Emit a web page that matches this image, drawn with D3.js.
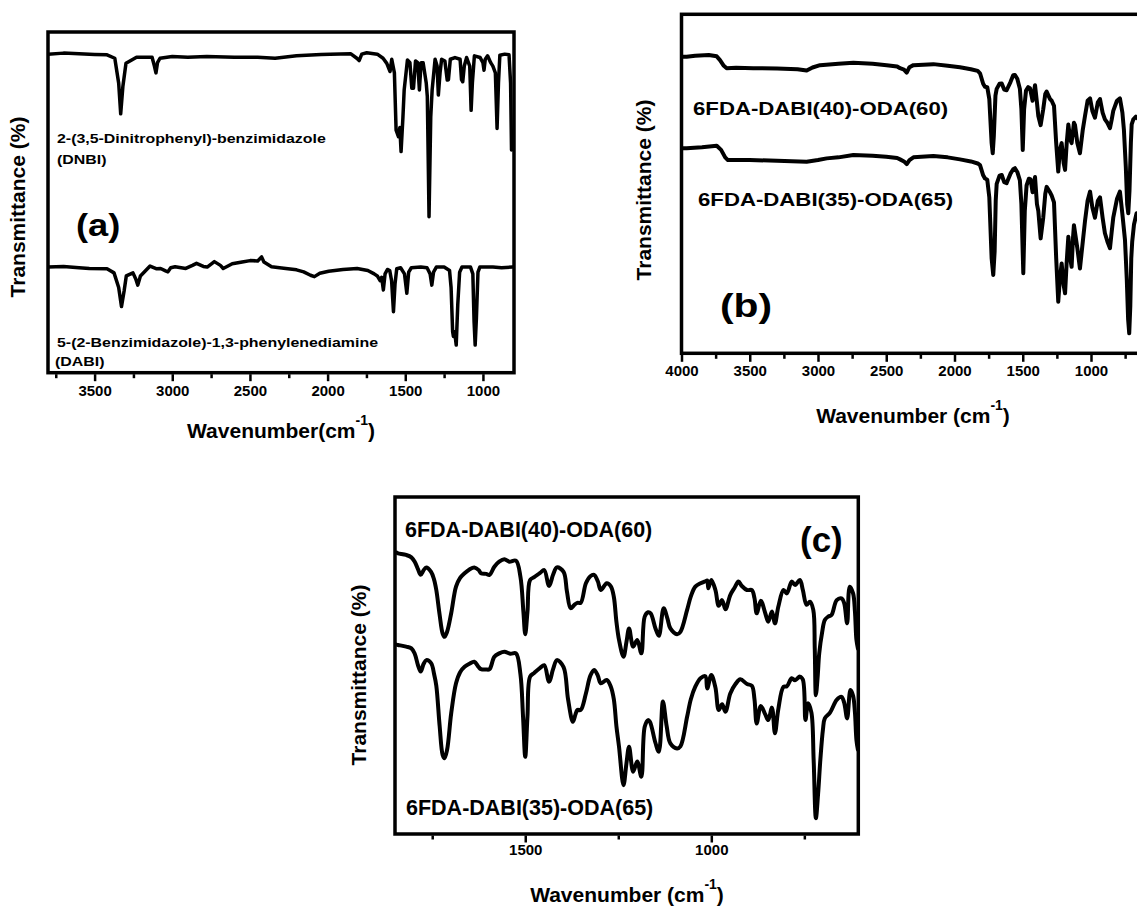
<!DOCTYPE html>
<html lang="en">
<head>
<meta charset="UTF-8">
<title>FTIR spectra of DNBI, DABI and 6FDA-DABI-ODA</title>
<script src="https://d3js.org/d3.v7.min.js"></script>
<style>
  body { margin: 0; background: #fff; }
  svg text { font-family: "Liberation Sans", Arial, sans-serif; font-weight: bold; fill: #000; }
  .frame { fill: none; stroke: #000; stroke-width: 3.5px; }
  .spectrum { fill: none; stroke: #000; stroke-linejoin: round; stroke-linecap: round; }
  .tick line { stroke: #000; stroke-width: 2.5px; }
</style>
</head>
<body>
<svg id="chart" width="1137" height="908"></svg>
<script>
// ---- data: [wavenumber (cm-1), transmittance (a.u., 0-100 of frame)] ----

// panel (a)
const dnbi = [[3800,93.5],[3700,93.8],[3600,93.6],[3500,93.4],[3420,93.3],[3370,92.3],[3345,85],[3332,76],[3318,84],[3298,90.8],
  [3230,92.6],[3130,92.6],[3115,90],[3105,88],[3095,91],[3079,92.3],[3000,92.8],[2900,92.6],[2778,92.8],[2600,92.6],
  [2450,92.6],[2338,92.3],[2200,93],[2042,93.4],[1984,93.5],[1850,93.6],[1812,92.3],[1797,91.6],[1780,93.5],[1748,93.9],
  [1680,93.5],[1643,92.3],[1619,90.8],[1598,88.4],[1587,92],[1570,88],[1559,71.2],[1544,69.3],[1535,72],[1527,64.9],
  [1515,75],[1507,83],[1486,91.8],[1470,91],[1458,83.5],[1447,83.5],[1434,91.5],[1420,91],[1409,83],[1398,91],
  [1385,91],[1365,85],[1358,81],[1347,45.8],[1336,75],[1327,83],[1308,92],[1295,90],[1287,81.5],[1276,88],
  [1266,92],[1245,91.5],[1230,85.9],[1222,86],[1210,92],[1180,92.5],[1147,92],[1138,86],[1130,85.4],[1120,90],
  [1105,92.5],[1085,90],[1076,77],[1068,85],[1055,93],[1018,92.5],[1000,91],[993,88.8],[985,92],[970,93],
  [950,91],[936,90],[920,88],[909,71.7],[900,85],[891,93.2],[860,93.5],[832,93.3],[822,85],[816,65.4]];

const dabi = [[3800,31],[3700,31.2],[3600,30.8],[3534,30.6],[3420,30.5],[3375,29.3],[3345,25],[3327,19.4],[3310,24],[3296,28.4],
  [3253,29.3],[3235,27.5],[3222,25.7],[3205,28.4],[3143,31.3],[3100,30.5],[3075,30.6],[3040,29.8],[3028,29.6],[3010,30.8],
  [2982,31.1],[2913,30.6],[2870,31.5],[2844,32.1],[2800,31.2],[2775,31],[2729,32.6],[2690,31.5],[2672,30.6],[2614,32],
  [2550,32.5],[2499,32.9],[2450,32.8],[2425,34],[2410,32.5],[2361,31.1],[2269,30.6],[2200,30.2],[2154,29.6],[2110,28.6],
  [2085,28.2],[2050,29.2],[1993,29.8],[1901,30.3],[1810,30.6],[1741,30],[1700,29],[1680,28.4],[1662,27],[1652,28],
  [1641,24.3],[1630,29],[1615,30.3],[1600,30],[1588,27],[1576,17.9],[1566,26],[1555,30.5],[1530,30.8],[1505,29],
  [1490,23.3],[1478,29.5],[1461,30.8],[1400,31],[1360,30.8],[1340,29],[1329,25.7],[1318,29.5],[1300,31],[1250,31],
  [1215,30],[1205,25],[1195,12],[1190,10.6],[1182,12],[1172,8.1],[1162,20],[1150,29.5],[1135,31],[1080,31],
  [1065,29],[1057,15],[1050,8.1],[1042,16],[1032,29.5],[1020,31],[936,31],[880,30.8],[810,31]];

// panel (b)
const pi4060b = [[4000,87.5],[3962,87.5],[3900,87.8],[3800,88],[3742,87.6],[3718,86.5],[3690,84.8],[3669,84.1],[3600,84.2],[3474,84.1],
  [3300,84],[3150,83.8],[3083,83.4],[3040,84.3],[2985,85],[2850,85.4],[2741,85.7],[2600,85.4],[2497,85],[2420,84.6],
  [2399,84.1],[2370,83.7],[2350,82.8],[2330,84.4],[2301,85],[2155,85.3],[2050,84.8],[1960,84.4],[1880,83.8],[1830,83.3],
  [1813,82.6],[1790,79.5],[1777,78.6],[1760,78.5],[1745,75],[1728,62],[1720,59],[1712,64],[1700,76],[1691,78],
  [1670,79.5],[1654,79.6],[1636,77.8],[1618,77.6],[1590,80],[1570,82],[1557,82.1],[1540,81],[1521,78],[1510,72],
  [1500,60],[1490,72],[1476,77.5],[1460,78.5],[1447,78.2],[1428,74.5],[1410,79.1],[1396,74],[1386,70],[1369,67.3],
  [1350,72],[1335,76.5],[1325,77.2],[1300,75],[1288,74.5],[1271,73],[1255,62],[1240,53.6],[1228,60],[1215,62],
  [1200,56],[1190,54.1],[1178,62],[1166,67.5],[1152,63],[1142,62],[1125,68],[1117,67.3],[1100,62],[1081,59],
  [1060,66],[1044,70],[1025,74.5],[1007,75.2],[990,71.5],[971,69.5],[950,74],[934,75],[915,71],[898,69],
  [880,68],[861,66.4],[848,69],[837,71.5],[810,74.5],[788,75.2],[770,71],[759,66],[745,55],[735,44],
  [727,41.3],[718,48],[708,62],[702,67.5],[690,69],[671,69.8],[650,69]];

const pi3565b = [[4000,60.5],[3962,60.5],[3850,60.8],[3742,61.2],[3710,60],[3680,57.8],[3660,57],[3500,57],[3300,56.8],[3083,56.5],
  [3000,57],[2936,57.5],[2850,57.8],[2741,58.5],[2600,58.3],[2500,58],[2420,57.6],[2399,57.2],[2370,56.6],[2350,55.8],
  [2330,57],[2301,57.8],[2155,58.2],[2050,57.8],[1960,57.2],[1880,56.6],[1830,56],[1813,55.5],[1790,52.5],[1777,51.6],
  [1760,51.2],[1745,46],[1728,28],[1716,23.1],[1706,30],[1698,45],[1691,50],[1670,52.4],[1654,52.6],[1636,50.5],
  [1618,50.2],[1590,53],[1570,54.3],[1557,54.6],[1540,53.5],[1521,51],[1510,44],[1496,23.6],[1485,42],[1472,49.5],
  [1455,51.5],[1443,51.3],[1428,47.5],[1410,52],[1396,44],[1386,42],[1369,33.9],[1350,40],[1335,47],[1325,49.1],
  [1300,47.5],[1288,46.5],[1271,44.5],[1255,28],[1240,15.2],[1228,22],[1215,26.5],[1200,20],[1190,17.7],[1178,27],
  [1166,34.4],[1152,28],[1142,25.5],[1132,34],[1125,37.8],[1100,31],[1081,25],[1060,33],[1044,39],[1025,45],
  [1007,47.7],[990,43],[971,40],[950,45],[934,46],[915,40],[898,35.4],[880,33],[861,31],[848,36],
  [837,40],[810,45.5],[788,47.7],[770,41],[751,33.4],[738,22],[728,10],[720,5.9],[712,14],[705,28],
  [698,33],[685,38],[666,41.3],[650,41]];

// panel (c)
const pi4060c = [[1846,83.5],[1842,83.3],[1820,82.8],[1806,82.1],[1797,80.8],[1788,78.5],[1781,76.9],[1773,78.3],[1766,79.1],[1753,77.8],
  [1745,75.5],[1739,72.4],[1730,65],[1722,59.5],[1717,58.5],[1710,60],[1699,65.5],[1686,73.4],[1675,76],[1663,77.4],
  [1650,78.5],[1637,79.1],[1625,78.3],[1619,77.4],[1605,77.2],[1596,76.9],[1583,79.3],[1570,80.8],[1556,81.5],[1543,80.8],
  [1525,81.1],[1513,76.4],[1505,66],[1500,59.3],[1494,66],[1487,75.4],[1476,76.2],[1460,77.5],[1449,78.3],[1436,73.6],
  [1425,77],[1415,79.1],[1397,77.8],[1388,72],[1378,67],[1368,68],[1360,68.6],[1351,68.6],[1337,74.4],[1325,76.5],
  [1315,76.9],[1305,75],[1297,72.4],[1281,74.4],[1270,73.5],[1262,70.4],[1255,63],[1248,57.6],[1236,52.6],[1228,57],
  [1221,61],[1210,55.6],[1199,57.6],[1188,53.6],[1179,64.5],[1170,65.8],[1163,65.5],[1150,61],[1141,58.8],[1128,67],
  [1118,64],[1110,61],[1092,59.3],[1083,60],[1065,66.5],[1055,70.5],[1043,73.4],[1029,74.4],[1016,75],[1011,75.2],
  [1008,72.9],[1000,75.4],[989,72.4],[980,67.7],[971,69.4],[962,66.7],[949,70.9],[938,73],[927,74.9],[918,73.6],
  [904,72.4],[891,72.4],[884,70],[878,65.5],[867,69.2],[855,65.5],[847,63],[837,66],[829,62.5],[820,67.4],
  [806,72.4],[797,71.4],[784,74.9],[775,73.9],[762,75.4],[754,72.4],[744,68],[735,68.9],[726,66.5],[722,55],
  [719,41.2],[714,47],[710,53.6],[702,60],[695,63.5],[686,64.5],[677,65],[663,69.4],[650,69.9],[643,68.5],
  [635,62.5],[628,73.4],[619,71.4],[614,66],[610,57.6],[606,55]];

const pi3565c = [[1846,56.2],[1842,56.1],[1820,55.6],[1806,55.1],[1797,53.5],[1788,50],[1781,48.2],[1773,50.5],[1766,51.6],[1753,50.7],
  [1745,47.5],[1739,44],[1730,32],[1722,23.5],[1717,22.5],[1710,25],[1699,35.8],[1686,44.7],[1675,48],[1663,49.6],
  [1650,50.5],[1637,51.1],[1625,49.5],[1619,48.9],[1605,48.8],[1596,48.9],[1583,52.6],[1570,53.6],[1556,54.1],[1540,53.5],
  [1525,53.6],[1513,47.5],[1506,35],[1500,22.9],[1494,35],[1487,46.7],[1476,47.8],[1460,49.3],[1449,50.1],[1436,45.2],
  [1425,49],[1415,51.6],[1397,49.5],[1385,40],[1372,33.3],[1365,35.5],[1360,36.8],[1351,36.8],[1337,41.7],[1325,47],
  [1315,48.7],[1305,47],[1297,44.7],[1281,45.7],[1270,43.7],[1262,40],[1255,32],[1248,25.9],[1236,14.5],[1228,21],
  [1221,25.9],[1210,18.5],[1199,21.5],[1188,17],[1179,31.8],[1170,33.8],[1165,33.3],[1150,27],[1141,24.4],[1130,39.3],
  [1120,32],[1110,26.9],[1092,25.4],[1083,26],[1065,34.8],[1055,40],[1043,43.7],[1029,46.2],[1016,46.8],[1011,43.2],
  [1000,47.2],[989,43.5],[980,36.8],[971,38.5],[962,36.3],[949,41.7],[935,44.5],[922,45.9],[904,44.5],[891,44],
  [884,40],[878,32.8],[867,38],[855,35.5],[847,33.8],[837,37.5],[829,29.9],[820,37],[806,43.7],[797,43.8],
  [784,46.2],[775,45.6],[762,46.7],[754,45.8],[747,33.8],[740,38.8],[731,36],[725,22],[719,4.7],[713,12],
  [707,22],[700,31],[695,34.3],[681,36],[663,39.8],[650,40.7],[643,39],[635,34.3],[626,42.7],[619,41],
  [614,36],[610,27.9],[606,25]];

// ticks
const majorA = [3500, 3000, 2500, 2000, 1500, 1000];
const minorA = [3750, 3250, 2750, 2250, 1750, 1250];
const majorB = [4000, 3500, 3000, 2500, 2000, 1500, 1000];
const minorB = [3750, 3250, 2750, 2250, 1750, 1250, 750];
const majorC = [1500, 1000];
const minorC = [1750, 1250, 750];

// labels
const labelsA = ['2-(3,5-Dinitrophenyl)-benzimidazole', '(DNBI)', '5-(2-Benzimidazole)-1,3-phenylenediamine', '(DABI)'];
const labelsPI = ['6FDA-DABI(40)-ODA(60)', '6FDA-DABI(35)-ODA(65)'];
const yTitle = 'Transmittance (%)';

const svg = d3.select('#chart');
svg.append('rect').attr('width', 1137).attr('height', 908).attr('fill', '#fff');

function addText(g, x, y, str, size, sx) {
    return g.append('text')
        .attr('transform', `translate(${x},${y}) scale(${sx || 1},1)`)
        .style('font-size', size + 'px')
        .text(str);
}

function xTitle(g, cx, y, gap) {
    const t = g.append('text')
        .attr('x', cx).attr('y', y)
        .attr('text-anchor', 'middle')
        .style('font-size', '21px');
    t.append('tspan').text(gap ? 'Wavenumber (cm' : 'Wavenumber(cm');
    t.append('tspan').attr('dy', -13).style('font-size', '14px').text('-1');
    t.append('tspan').attr('dy', 13).text(')');
}

function drawPanel(p) {
    const x = d3.scaleLinear().domain(p.xDomain).range([p.left, p.right]);
    const y = d3.scaleLinear().domain([0, 100]).range([p.bottom, p.top]);
    const g = svg.append('g');

    g.append('clipPath').attr('id', 'clip-' + p.id)
        .append('rect')
        .attr('x', p.left).attr('y', p.top)
        .attr('width', p.right - p.left).attr('height', p.bottom - p.top);

    const line = d3.line()
        .x(d => x(d[0]))
        .y(d => y(d[1]))
        .curve(p.curve);

    g.append('g')
        .attr('clip-path', `url(#clip-${p.id})`)
        .selectAll('path')
        .data(p.series)
        .join('path')
        .attr('class', 'spectrum')
        .attr('stroke-width', p.lineWidth)
        .attr('d', line);

    // minor ticks
    g.append('g')
        .attr('transform', `translate(0,${p.bottom + 1.5})`)
        .call(d3.axisBottom(x).tickValues(p.minor).tickSize(4).tickFormat(''))
        .call(a => a.select('.domain').remove());

    // major ticks + labels
    g.append('g')
        .attr('transform', `translate(0,${p.bottom + 1.5})`)
        .call(d3.axisBottom(x).tickValues(p.major).tickSize(7).tickPadding(p.tickPad).tickFormat(d3.format('d')))
        .call(a => a.select('.domain').remove())
        .call(a => a.selectAll('text').style('font-size', '15px'));

    g.append('rect')
        .attr('class', 'frame')
        .attr('x', p.left).attr('y', p.top)
        .attr('width', p.right - p.left).attr('height', p.bottom - p.top);

    // y title
    g.append('text')
        .attr('transform', `translate(${p.yTitleX},${p.yTitleY}) rotate(-90)`)
        .attr('text-anchor', 'middle')
        .style('font-size', '21px')
        .text(yTitle);

    xTitle(g, p.xTitleX, p.xTitleY, p.gap);

    p.labels.forEach(l => addText(g, l[0], l[1], l[2], l[3], l[4]));
    return g;
}

// (a)
drawPanel({
    id: 'a', xDomain: [3800, 800], left: 48, right: 514, top: 32, bottom: 372.7,
    series: [dnbi, dabi], curve: d3.curveLinear, lineWidth: 3.5,
    major: majorA, minor: minorA, tickPad: 4,
    yTitleX: 24.5, yTitleY: 207, xTitleX: 281, xTitleY: 438, gap: false,
    labels: [
        [57, 142.7, labelsA[0], 13.5, 1.18],
        [57, 164, labelsA[1], 13.5, 1.18],
        [57, 346.7, labelsA[2], 13.5, 1.18],
        [55, 366, labelsA[3], 13.5, 1.18],
        [76, 236, '(a)', 31, 1.17]
    ]
});

// (b)
drawPanel({
    id: 'b', xDomain: [4000, 600], left: 681.5, right: 681.5 + 3400 * 0.1365, top: 14.3, bottom: 353.3,
    series: [pi4060b, pi3565b], curve: d3.curveLinear, lineWidth: 4,
    major: majorB, minor: minorB, tickPad: 4,
    yTitleX: 650.5, yTitleY: 190, xTitleX: 913, xTitleY: 423, gap: true,
    labels: [
        [693, 115, labelsPI[0], 18.5, 1.2],
        [698, 206, labelsPI[1], 18.5, 1.2],
        [720, 317, '(b)', 34, 1.2]
    ]
});

// (c)
drawPanel({
    id: 'c', xDomain: [1850, 605], left: 395, right: 858.3, top: 497, bottom: 834,
    series: [pi4060c, pi3565c], curve: d3.curveCatmullRom.alpha(0.5), lineWidth: 4,
    major: majorC, minor: minorC, tickPad: 2,
    yTitleX: 365.5, yTitleY: 675, xTitleX: 627, xTitleY: 902, gap: true,
    labels: [
        [405, 536.5, labelsPI[0], 21.5, 1],
        [406, 815, labelsPI[1], 21.5, 1],
        [800, 552, '(c)', 35, 1]
    ]
});
</script>
</body>
</html>
